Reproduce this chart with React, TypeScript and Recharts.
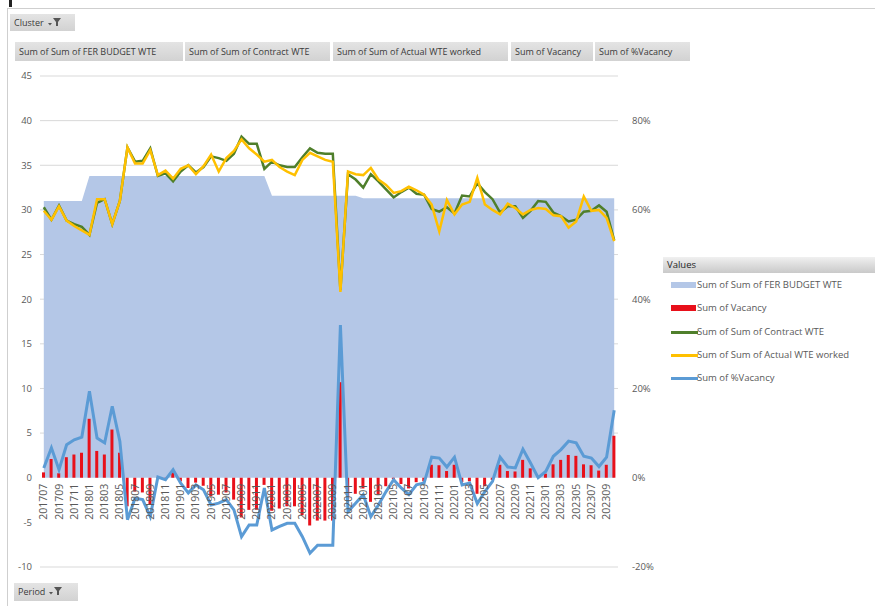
import React from 'react'
import { ComposedChart, Area, Bar, Line, XAxis, YAxis, CartesianGrid } from 'recharts'

// monthly periods, 201707 .. 202310
const periods = [
  '201707', '201708', '201709', '201710', '201711', '201712',
  '201801', '201802', '201803', '201804', '201805', '201806', '201807', '201808', '201809', '201810', '201811', '201812',
  '201901', '201902', '201903', '201904', '201905', '201906', '201907', '201908', '201909', '201910', '201911', '201912',
  '202001', '202002', '202003', '202004', '202005', '202006', '202007', '202008', '202009', '202010', '202011', '202012',
  '202101', '202102', '202103', '202104', '202105', '202106', '202107', '202108', '202109', '202110', '202111', '202112',
  '202201', '202202', '202203', '202204', '202205', '202206', '202207', '202208', '202209', '202210', '202211', '202212',
  '202301', '202302', '202303', '202304', '202305', '202306', '202307', '202308', '202309', '202310'
]

const budgetWte = [
  31.0, 31.0, 31.0, 31.0, 31.0, 31.0,
  33.8, 33.8, 33.8, 33.8, 33.8, 33.8, 33.8, 33.8, 33.8, 33.8, 33.8, 33.8,
  33.8, 33.8, 33.8, 33.8, 33.8, 33.8, 33.8, 33.8, 33.8, 33.8, 33.8, 33.8,
  31.6, 31.6, 31.6, 31.6, 31.6, 31.6, 31.6, 31.6, 31.6, 31.6, 31.6, 31.6,
  31.3, 31.3, 31.3, 31.3, 31.3, 31.3, 31.3, 31.3, 31.3, 31.3, 31.3, 31.3,
  31.3, 31.3, 31.3, 31.3, 31.3, 31.3, 31.3, 31.3, 31.3, 31.3, 31.3, 31.3,
  31.3, 31.3, 31.3, 31.3, 31.3, 31.3, 31.3, 31.3, 31.3, 31.3
]

const contractWte = [
  30.3, 28.9, 30.5, 28.8, 28.4, 28.1, 27.2, 30.8, 31.2, 28.4,
  31.0, 37.0, 35.4, 35.5, 36.9, 33.8, 34.1, 33.2, 34.3, 35.0,
  34.2, 34.8, 36.0, 35.8, 35.5, 36.3, 38.2, 37.4, 37.4, 34.6,
  35.4, 35.0, 34.8, 34.8, 35.9, 36.9, 36.4, 36.3, 36.3, 21.0,
  34.0, 33.4, 32.5, 34.0, 33.2, 32.3, 31.4, 32.0, 32.5, 31.8,
  31.7, 30.1, 29.8, 30.3, 29.6, 31.6, 31.5, 33.0, 32.0, 31.2,
  29.7, 30.4, 30.4, 29.1, 29.9, 31.0, 30.9, 29.7, 29.3, 28.7,
  28.9, 29.8, 29.9, 30.5, 29.8, 26.6
]

const actualWte = [
  29.9, 28.9, 30.4, 28.8, 28.2, 27.7, 27.2, 31.2, 31.2, 28.4,
  31.0, 37.0, 35.2, 35.2, 36.7, 33.9, 34.4, 33.5, 34.6, 35.0,
  34.0, 34.9, 36.2, 34.3, 35.8, 36.6, 37.9, 36.9, 36.2, 35.4,
  35.6, 34.8, 34.3, 33.9, 35.6, 36.4, 36.0, 35.6, 35.4, 20.8,
  34.3, 34.0, 33.9, 34.7, 33.4, 32.8, 31.9, 32.1, 32.6, 32.2,
  31.7, 30.6, 27.6, 31.1, 29.5, 30.6, 30.9, 33.6, 30.6, 30.0,
  29.5, 30.7, 30.2, 29.5, 30.0, 30.2, 30.1, 29.4, 29.3, 28.0,
  28.7, 31.5, 29.9, 30.0, 29.1, 26.5
]

const vacancy = [
  0.6, 2.1, 0.5, 2.3, 2.6, 2.8, 6.6, 3.0, 2.6, 5.4,
  2.8, -3.2, -1.55, -1.65, -2.95, 0.05, -0.15, 0.6, -0.4, -1.15,
  -0.55, -0.9, -2.05, -1.9, -1.65, -2.45, -4.45, -3.6, -3.6, -0.8,
  -3.7, -3.45, -3.2, -3.2, -4.2, -5.35, -4.8, -4.8, -4.8, 10.7,
  -2.4, -1.8, -1.2, -2.7, -1.9, -0.95, -0.15, -0.7, -1.2, -0.5,
  -0.4, 1.45, 1.4, 0.75, 1.45, -0.5, -0.4, -1.8, -0.95, -0.25,
  1.45, 0.75, 0.7, 2.0, 1.05, 0.0, 0.45, 1.5, 2.0, 2.55,
  2.45, 1.5, 1.4, 0.8, 1.45, 4.7
]

const pctVacancy = [
  0.022, 0.067, 0.018, 0.074, 0.085, 0.091, 0.194, 0.089, 0.078, 0.16,
  0.082, -0.094, -0.046, -0.049, -0.087, 0.0015, -0.0045, 0.018, -0.012, -0.034,
  -0.016, -0.027, -0.061, -0.057, -0.049, -0.072, -0.132, -0.106, -0.106, -0.023,
  -0.117, -0.109, -0.102, -0.102, -0.132, -0.169, -0.151, -0.151, -0.151, 0.342,
  -0.076, -0.057, -0.038, -0.087, -0.061, -0.031, -0.0045, -0.023, -0.038, -0.016,
  -0.012, 0.046, 0.044, 0.024, 0.046, -0.016, -0.012, -0.058, -0.031, -0.008,
  0.046, 0.024, 0.022, 0.064, 0.033, 0.0, 0.014, 0.048, 0.063, 0.082,
  0.078, 0.048, 0.044, 0.025, 0.046, 0.151
]

const leftTicks = [-10, -5, 0, 5, 10, 15, 20, 25, 30, 35, 40, 45]
const rightTicks = [-0.2, 0, 0.2, 0.4, 0.6, 0.8]
const gridValues = [-10, 5, 10, 15, 20, 25, 30, 35, 40, 45]

const fieldButtons = [
  'Sum of Sum of FER BUDGET WTE',
  'Sum of Sum of Contract WTE',
  'Sum of Sum of Actual WTE worked',
  'Sum of Vacancy',
  'Sum of %Vacancy'
]

const data = periods.map((period, i) => ({
  period,
  budget: budgetWte[i],
  vacancy: vacancy[i],
  contract: contractWte[i],
  actual: actualWte[i],
  pct: pctVacancy[i]
}))

const FONT = '"Open Sans", "Liberation Sans", sans-serif'
const TEXT = '#595959'
const C_BUDGET = '#b4c7e7'
const C_VAC = '#e8101a'
const C_CONTRACT = '#4f7f2b'
const C_ACTUAL = '#ffc000'
const C_PCT = '#5b9bd5'

const PLOT_TOP = 76
const PLOT_BOTTOM = 567
const ZERO_Y = PLOT_TOP + (45 / 55) * (PLOT_BOTTOM - PLOT_TOP)

function PeriodTick(props: any) {
  const { x, payload } = props
  const ax = x + 3.5
  const ay = ZERO_Y + 6
  return (
    <text
      x={ax}
      y={ay}
      transform={`rotate(-90 ${ax} ${ay})`}
      textAnchor="end"
      fontSize={10.5}
      fontFamily={FONT}
      fill={TEXT}
    >
      {payload.value}
    </text>
  )
}

const grayBtn: React.CSSProperties = {
  position: 'absolute',
  background: 'linear-gradient(#e4e4e4, #d2d2d2)',
  color: '#3a3a3a',
  fontFamily: FONT,
  fontSize: 9,
  boxSizing: 'border-box',
  whiteSpace: 'nowrap',
  overflow: 'hidden'
}

function Funnel() {
  return (
    <svg width="14" height="10" style={{ marginLeft: 4, verticalAlign: -1 }}>
      <path d="M0 6 L4 6 L2 8.5 Z" fill="#555" />
      <path d="M5 1 L13 1 L10 5 L10 9 L8 9 L8 5 Z" fill="#555" />
    </svg>
  )
}

const legendItems = [
  { label: 'Sum of Sum of FER BUDGET WTE', color: C_BUDGET, kind: 'rect' },
  { label: 'Sum of Vacancy', color: C_VAC, kind: 'rect' },
  { label: 'Sum of Sum of Contract WTE', color: C_CONTRACT, kind: 'line' },
  { label: 'Sum of Sum of Actual WTE worked', color: C_ACTUAL, kind: 'line' },
  { label: 'Sum of %Vacancy', color: C_PCT, kind: 'line' }
]

export default function App() {
  const fieldX = [15, 185, 333, 511, 595]
  const fieldW = [168, 145, 175, 82, 95]

  return (
    <div style={{ position: 'absolute', left: 0, top: 0, width: 875, height: 606, background: '#fff', overflow: 'hidden' }}>
      {/* frame lines of the pivot chart */}
      <div style={{ position: 'absolute', left: 7, top: 8, width: 868, height: 1, background: '#cfcfcf' }} />
      <div style={{ position: 'absolute', left: 7, top: 8, width: 1, height: 598, background: '#cfcfcf' }} />
      <div style={{ position: 'absolute', left: 9, top: 0, width: 3, height: 7, background: '#222' }} />

      <div style={{ ...grayBtn, left: 10, top: 14, width: 65, height: 17, lineHeight: '17px', paddingLeft: 4 }}>
        Cluster
        <Funnel />
      </div>

      {fieldButtons.map((name, i) => (
        <div
          key={name}
          style={{ ...grayBtn, left: fieldX[i], top: 42, width: fieldW[i], height: 19, lineHeight: '19px', paddingLeft: 4 }}
        >
          {name}
        </div>
      ))}

      <div style={{ position: 'absolute', left: 0, top: 0 }}>
        <ComposedChart width={875} height={606} data={data} margin={{ top: PLOT_TOP, right: 0, bottom: 38, left: 0 }}>
          <CartesianGrid yAxisId="left" vertical={false} stroke="#d9d9d9" horizontalValues={gridValues} />
          <XAxis
            dataKey="period"
            height={1}
            interval={1}
            axisLine={false}
            tickLine={false}
            tick={<PeriodTick />}
          />
          <YAxis
            yAxisId="left"
            width={40}
            domain={[-10, 45]}
            ticks={leftTicks}
            interval={0}
            axisLine={false}
            tickLine={false}
            tick={{ fontSize: 9.5, fill: TEXT, fontFamily: FONT }}
          />
          <YAxis
            yAxisId="right"
            orientation="right"
            width={257}
            domain={[-0.2, 0.9]}
            ticks={rightTicks}
            interval={0}
            axisLine={false}
            tickLine={false}
            tickMargin={8}
            tickFormatter={(v: number) => `${Math.round(v * 100)}%`}
            tick={{ fontSize: 9.5, fill: TEXT, fontFamily: FONT, textAnchor: 'start' }}
          />
          <Area
            yAxisId="left"
            type="linear"
            dataKey="budget"
            fill={C_BUDGET}
            fillOpacity={1}
            stroke="none"
            isAnimationActive={false}
          />
          <Bar yAxisId="left" dataKey="vacancy" fill={C_VAC} barSize={3} isAnimationActive={false} />
          <Line
            yAxisId="left"
            type="linear"
            dataKey="contract"
            stroke={C_CONTRACT}
            strokeWidth={2.5}
            dot={false}
            isAnimationActive={false}
          />
          <Line
            yAxisId="left"
            type="linear"
            dataKey="actual"
            stroke={C_ACTUAL}
            strokeWidth={2.5}
            dot={false}
            isAnimationActive={false}
          />
          <Line
            yAxisId="right"
            type="linear"
            dataKey="pct"
            stroke={C_PCT}
            strokeWidth={3}
            dot={false}
            isAnimationActive={false}
          />
        </ComposedChart>
      </div>

      {/* legend */}
      <div style={{ position: 'absolute', left: 663, top: 257, width: 212, fontFamily: FONT }}>
        <div
          style={{
            height: 16,
            lineHeight: '16px',
            paddingLeft: 4,
            fontSize: 9.5,
            color: '#262626',
            background: 'linear-gradient(#f0f0f0, #c9c9c9)'
          }}
        >
          Values
        </div>
        {legendItems.map((item, i) => (
          <div key={item.label} style={{ position: 'absolute', left: 0, top: 21 + i * 23.3, height: 14, width: 212 }}>
            {item.kind === 'rect' ? (
              <div style={{ position: 'absolute', left: 8, top: 4, width: 25, height: 6, background: item.color }} />
            ) : (
              <div style={{ position: 'absolute', left: 8, top: 6, width: 27, height: 3, background: item.color }} />
            )}
            <div style={{ position: 'absolute', left: 34, top: 0, fontSize: 9.5, lineHeight: '14px', color: TEXT, whiteSpace: 'nowrap' }}>
              {item.label}
            </div>
          </div>
        ))}
      </div>

      <div style={{ ...grayBtn, left: 14, top: 583, width: 64, height: 18, lineHeight: '18px', paddingLeft: 4 }}>
        Period
        <Funnel />
      </div>
    </div>
  )
}
